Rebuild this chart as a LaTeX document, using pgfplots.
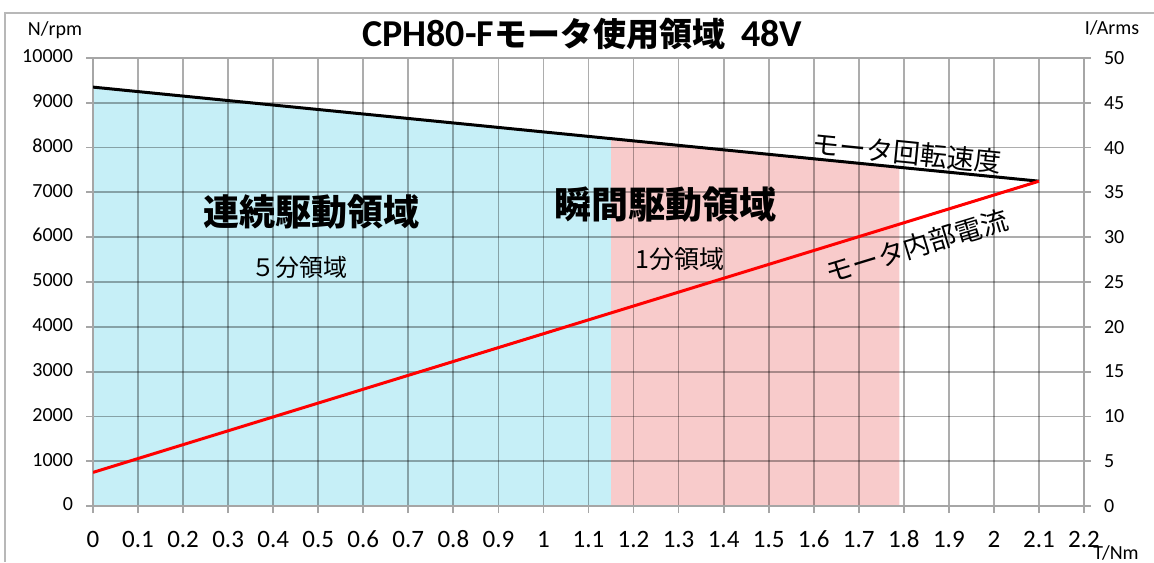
\documentclass[border=0pt]{standalone}
\usepackage{fontspec}
\setmainfont{Carlito}
\newfontfamily\jp{Noto Sans CJK JP}
\usepackage{pgfplots}
\pgfplotsset{compat=1.18}
\definecolor{cblue}{HTML}{C6EFF7}
\definecolor{cpink}{HTML}{F8CBCB}
\definecolor{gridc}{HTML}{A6A6A6}
\begin{document}
\begin{tikzpicture}
\useasboundingbox (0,0) rectangle (577pt,281pt);
\draw[gridc!80, line width=0.6pt] (2.5pt,0) -- (2.5pt,274.5pt) -- (577pt,274.5pt);
\pgfplotsset{
  every axis/.append style={
    scale only axis, width=495.5pt, height=224pt,
    at={(46.5pt,28pt)}, anchor=south west,
    xmin=0, xmax=2.2,
    /pgf/number format/assume math mode=true,
    /pgf/number format/1000 sep={},
    scaled ticks=false,
    tick align=outside, major tick length=3.5pt,
    tick style={gridc, line width=0.9pt},
    axis line style={gridc, line width=0.9pt},
  }
}
% fills and grid
\begin{axis}[
  ymin=0, ymax=10000,
  ytick={0,1000,...,10000},
  xtick={0,0.1,0.2,0.3,0.4,0.5,0.6,0.7,0.8,0.9,1,1.1,1.2,1.3,1.4,1.5,1.6,1.7,1.8,1.9,2,2.1,2.2},
  xticklabels={0,0.1,0.2,0.3,0.4,0.5,0.6,0.7,0.8,0.9,1,1.1,1.2,1.3,1.4,1.5,1.6,1.7,1.8,1.9,2,2.1,2.2},
  xtick pos=bottom, ytick pos=left,
  grid=major,
  grid style={black, opacity=0.32, line width=0.9pt},
  axis on top,
  typeset ticklabels with strut,
  yticklabel style={font=\fontsize{10}{12}\selectfont, xshift=-3pt},
  xticklabel style={font=\fontsize{12.5}{14}\selectfont, yshift=-4pt},
]
\addplot[fill=cblue, draw=none] coordinates {(0,9350) (1.15,8200)} \closedcycle;
\addplot[fill=cpink, draw=none] coordinates {(1.15,8200) (1.79,7560)} \closedcycle;
\end{axis}
% speed line and labels
\begin{axis}[ymin=0, ymax=10000, hide axis]
\addplot[black, line width=1.5pt] coordinates {(0,9350) (2.1,7250)};
\node[font=\jp\bfseries\fontsize{18}{20}\selectfont] at (axis cs:0.486,6563) {連続駆動領域};
\node[font=\jp\fontsize{12}{14}\selectfont] at (axis cs:0.459,5335) {５分領域};
\node[font=\jp\bfseries\fontsize{18.5}{20}\selectfont] at (axis cs:1.27,6719) {瞬間駆動領域};
\node[font=\jp\fontsize{12.5}{14}\selectfont] at (axis cs:1.303,5513) {1分領域};
\node[font=\jp\fontsize{13.5}{15}\selectfont, rotate=-5.7] at (axis cs:1.807,7879) {モータ回転速度};
\node[font=\jp\fontsize{13.5}{15}\selectfont, rotate=17] at (axis cs:1.829,5800) {モータ内部電流};
\end{axis}
% current on right axis
\begin{axis}[
  ymin=0, ymax=50,
  axis y line*=right, axis x line=none,
  ytick={0,5,...,50},
  yticklabel style={font=\fontsize{10}{12}\selectfont, xshift=3pt},
]
\addplot[red, line width=1.5pt] coordinates {(0,3.75) (2.1,36.25)};
\end{axis}
\node[anchor=base west, inner sep=0pt] at (181pt,257.5pt) {%
  {\fontsize{19}{21}\selectfont\bfseries CPH80-F}%
  {\jp\bfseries\fontsize{16.5}{18}\selectfont モータ使用領域}%
  \hspace{8pt}{\fontsize{19}{21}\selectfont\bfseries 48V}};
\node[font=\fontsize{10}{12}\selectfont] at (27.5pt,266pt) {N/rpm};
\node[font=\fontsize{10}{12}\selectfont] at (556pt,267pt) {I/Arms};
\node[font=\fontsize{10}{12}\selectfont] at (558pt,4.5pt) {T/Nm};
\end{tikzpicture}
\end{document}
